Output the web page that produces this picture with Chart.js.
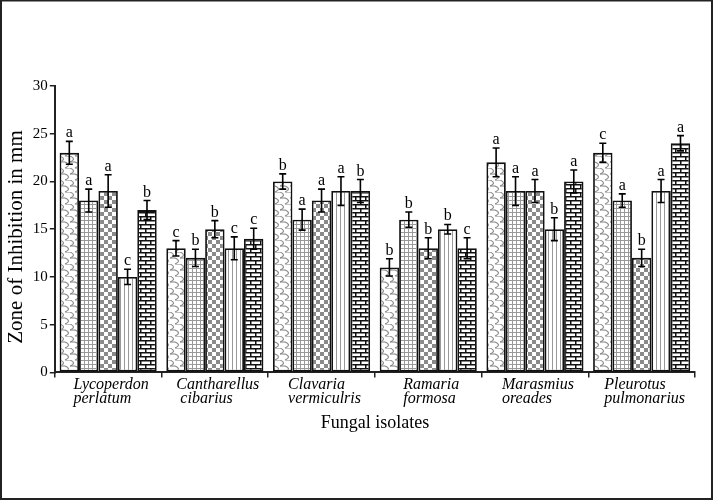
<!DOCTYPE html>
<html>
<head>
<meta charset="utf-8">
<script src="https://cdn.jsdelivr.net/npm/chart.js@4"></script>
<style>
html,body{margin:0;padding:0;background:#fff;}
canvas{display:block;}
</style>
</head>
<body>
<canvas id="c" width="713" height="500"></canvas>
<script>
const categories = [["Lycoperdon","perlatum"],["Cantharellus"," cibarius"],["Clavaria","vermiculris"],["Ramaria","formosa"],["Marasmius","oreades"],["Pleurotus","pulmonarius"]];
const yTicks = [0,5,10,15,20,25,30];
const series1 = [23,13,20,11,22,23];
const series2 = [18,12,16,16,19,18];
const series3 = [19,15,18,13,19,12];
const series4 = [10,13,19,15,15,19];
const series5 = [17,14,19,13,20,24];
const err1 = [1.2,0.8,0.8,0.9,1.5,1.0];
const err2 = [1.2,0.9,1.1,0.8,1.5,0.7];
const err3 = [1.7,0.9,1.2,1.1,1.2,0.9];
const err4 = [0.8,1.2,1.5,0.5,1.2,1.2];
const err5 = [1.0,1.1,1.2,1.1,1.2,0.8];
const let1 = ["a","c","b","b","a","c"];
const let2 = ["a","b","a","b","a","a"];
const let3 = ["a","b","a","b","a","b"];
const let4 = ["c","c","a","b","b","a"];
const let5 = ["b","c","b","c","a","a"];
const yTitle = "Zone of Inhibition in mm";
const xTitle = "Fungal isolates";

function tile(w,h,draw){
  const c=document.createElement('canvas');c.width=w;c.height=h;
  const g=c.getContext('2d');g.fillStyle='#fff';g.fillRect(0,0,w,h);draw(g);
  return document.getElementById('c').getContext('2d').createPattern(c,'repeat');
}
const pScale = tile(10,12,g=>{
  g.strokeStyle='#8a8a8a';g.lineWidth=1.1;
  g.beginPath();g.moveTo(0,0);g.quadraticCurveTo(7,3,0,6);g.stroke();
  g.beginPath();g.moveTo(5,6);g.quadraticCurveTo(12,9,5,12);g.stroke();
  g.beginPath();g.moveTo(5,0);g.lineTo(10,0);g.stroke();
  g.beginPath();g.moveTo(0,6);g.lineTo(5,6);g.stroke();
});
const pGrid = tile(4,4,g=>{g.fillStyle='#999';g.fillRect(0,0,4,1);g.fillRect(0,0,1,4);});
const pCheck = tile(8,8,g=>{g.fillStyle='#8a8a8a';g.fillRect(0,0,4,4);g.fillRect(4,4,4,4);});
const pVert = tile(4,4,g=>{g.fillStyle='#999';g.fillRect(0,0,1,4);});
const pBrick = tile(10,8,g=>{g.fillStyle='#111';g.fillRect(0,0,10,1.5);g.fillRect(0,4,10,1.5);g.fillRect(0,0,1.5,4);g.fillRect(5,4,1.5,4);});

const errs=[err1,err2,err3,err4,err5];
const lets=[let1,let2,let3,let4,let5];

const errPlugin={
  id:'err',
  beforeDraw(chart){
    const ctx=chart.ctx;ctx.save();ctx.fillStyle='#fff';ctx.fillRect(0,0,chart.width,chart.height);ctx.restore();
  },
  afterDatasetsDraw(chart){
    const ctx=chart.ctx, y=chart.scales.y;
    chart.data.datasets.forEach((ds,i)=>{
      const meta=chart.getDatasetMeta(i);
      meta.data.forEach((bar,j)=>{
        const v=ds.data[j], e=errs[i][j];
        const top=y.getPixelForValue(v+e), bot=y.getPixelForValue(v-e);
        ctx.save();
        ctx.strokeStyle='#000';ctx.lineWidth=1.6;
        ctx.beginPath();
        ctx.moveTo(bar.x,top);ctx.lineTo(bar.x,bot);
        ctx.moveTo(bar.x-3.5,top);ctx.lineTo(bar.x+3.5,top);
        ctx.moveTo(bar.x-3.5,bot);ctx.lineTo(bar.x+3.5,bot);
        ctx.stroke();
        ctx.fillStyle='#000';ctx.font='16px "Liberation Serif"';
        ctx.textAlign='center';ctx.textBaseline='alphabetic';
        ctx.fillText(lets[i][j],bar.x,top-4);
        ctx.restore();
      });
    });
  },
  afterDraw(chart){
    const ctx=chart.ctx, x=chart.scales.x, y=chart.scales.y;
    ctx.save();
    ctx.fillStyle='#000';
    ctx.font='italic 16px "Liberation Serif"';
    ctx.textAlign='left';ctx.textBaseline='alphabetic';
    categories.forEach((lines,j)=>{
      const cx=x.getPixelForValue(j);
      const w=Math.max(...lines.map(l=>ctx.measureText(l).width));
      const x0=cx-w/2+3;
      lines.forEach((l,k)=>ctx.fillText(l,x0,y.bottom+17+k*14));
    });
    ctx.font='21px "Liberation Serif"';
    ctx.translate(16,237);ctx.rotate(-Math.PI/2);
    ctx.textAlign='center';ctx.textBaseline='middle';
    ctx.fillText(yTitle,0,0);
    ctx.restore();
    ctx.save();
    ctx.strokeStyle='#222';ctx.lineWidth=2;
    ctx.strokeRect(1,0.5,chart.width-2,chart.height-1.5);
    ctx.restore();
  }
};

new Chart(document.getElementById('c'),{
  type:'bar',
  data:{labels:categories,datasets:[
    {label:'S1',data:series1,backgroundColor:pScale},
    {label:'S2',data:series2,backgroundColor:pGrid},
    {label:'S3',data:series3,backgroundColor:pCheck},
    {label:'S4',data:series4,backgroundColor:pVert},
    {label:'S5',data:series5,backgroundColor:pBrick}
  ].map(d=>Object.assign(d,{borderColor:'#111',borderWidth:1.8,borderSkipped:false,categoryPercentage:0.91,barPercentage:1.0}))},
  options:{
    responsive:false,animation:false,
    layout:{padding:{left:0,right:18,top:86,bottom:62}},
    plugins:{legend:{display:false},tooltip:{enabled:false}},
    scales:{
      x:{
        grid:{display:true,offset:true,drawOnChartArea:false,color:'#222',tickLength:5,lineWidth:1.5},
        border:{display:true,color:'#222',width:2},
        ticks:{color:'rgba(0,0,0,0)',font:{family:'Liberation Serif',size:15,style:'italic',lineHeight:1.0},maxRotation:0,padding:1},
        title:{display:true,text:xTitle,color:'#000',font:{family:'Liberation Serif',size:18},padding:{top:3}}
      },
      y:{
        min:0,max:30,
        afterBuildTicks(s){s.ticks=yTicks.map(v=>({value:v}));},
        grid:{display:true,drawOnChartArea:false,color:'#222',tickLength:5,lineWidth:1.5},
        border:{display:true,color:'#222',width:2},
        ticks:{color:'#000',font:{family:'Liberation Serif',size:15},padding:2},
        title:{display:true,text:yTitle,color:'rgba(0,0,0,0)',font:{family:'Liberation Serif',size:19},padding:{bottom:4}}
      }
    }
  },
  plugins:[errPlugin]
});
</script>
</body>
</html>
